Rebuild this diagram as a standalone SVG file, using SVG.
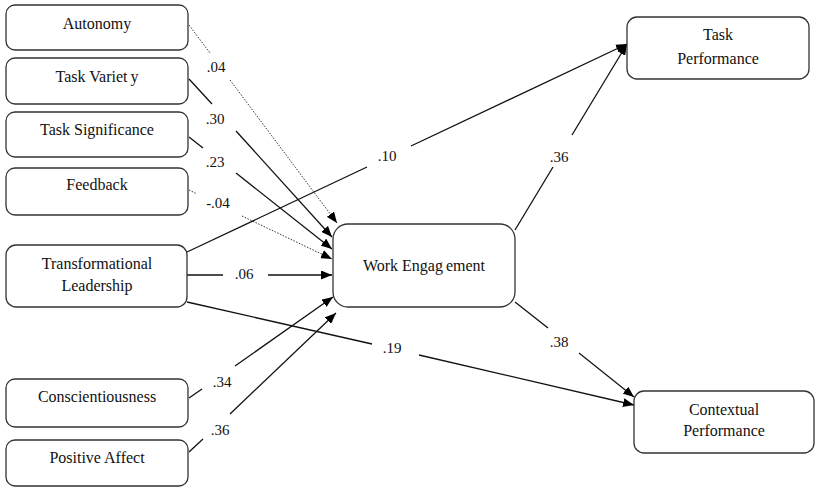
<svg xmlns="http://www.w3.org/2000/svg" width="815" height="488" viewBox="0 0 815 488">
<defs>
<style>
.box{fill:#fff;stroke:#333;stroke-width:1.3}
.t{font-family:"Liberation Serif","Times New Roman",serif;font-size:16px;fill:#111;text-anchor:middle}
.l{font-family:"Liberation Serif","Times New Roman",serif;font-size:15px;fill:#111;text-anchor:middle}
.c{fill:none;stroke:#111;stroke-width:1.3}
.d{fill:none;stroke:#333;stroke-width:1;stroke-dasharray:1.5,1.5}
</style>
<marker id="ah" markerUnits="userSpaceOnUse" markerWidth="12" markerHeight="9" refX="11" refY="4.5" orient="auto">
<path d="M0,0 L11,4.5 L0,9 z" fill="#000"/>
</marker>
</defs>
<rect width="815" height="488" fill="#fff"/>
<g id="connectors">
<path class="d" d="M189,25 L210,53"/>
<path class="d" d="M230,80 L337,223" marker-end="url(#ah)"/>
<path class="c" d="M189,79 L212,104"/>
<path class="c" d="M236,131 L332,237" marker-end="url(#ah)"/>
<path class="c" d="M189,137 L203,148"/>
<path class="c" d="M236,173 L332,249" marker-end="url(#ah)"/>
<path class="d" d="M189,190 L197,194"/>
<path class="d" d="M242,216 L332,259" marker-end="url(#ah)"/>
<path class="c" d="M187,275 L223,275"/>
<path class="c" d="M268,275 L332,275" marker-end="url(#ah)"/>
<path class="c" d="M189,398 L202,389"/>
<path class="c" d="M235,366 L333,297" marker-end="url(#ah)"/>
<path class="c" d="M189,452 L203,439"/>
<path class="c" d="M230,414 L336,313" marker-end="url(#ah)"/>
<path class="c" d="M187,252 L367,167"/>
<path class="c" d="M411,146 L627,44" marker-end="url(#ah)"/>
<path class="c" d="M187,302 L372,344"/>
<path class="c" d="M419,355 L634,405" marker-end="url(#ah)"/>
<path class="c" d="M515,230 L553,167"/>
<path class="c" d="M572,135 L627,44" marker-end="url(#ah)"/>
<path class="c" d="M515,302 L548,328"/>
<path class="c" d="M579,353 L634,397" marker-end="url(#ah)"/>
<text class="l" x="216" y="72">.04</text>
<text class="l" x="215" y="124">.30</text>
<text class="l" x="215" y="167">.23</text>
<text class="l" x="218" y="208">-.04</text>
<text class="l" x="244" y="279">.06</text>
<text class="l" x="222" y="387">.34</text>
<text class="l" x="220" y="435">.36</text>
<text class="l" x="387" y="161">.10</text>
<text class="l" x="392" y="353">.19</text>
<text class="l" x="559" y="162">.36</text>
<text class="l" x="559" y="347">.38</text>
</g>
<g id="autonomy"><rect class="box" x="6" y="5" width="182" height="45" rx="9"/><text class="t" x="97" y="29">Autonomy</text></g>
<g id="task-variety"><rect class="box" x="6" y="58" width="182" height="46" rx="9"/><text class="t" x="97" y="82">Task Variet<tspan dx="3">y</tspan></text></g>
<g id="task-significance"><rect class="box" x="6" y="112" width="182" height="45" rx="9"/><text class="t" x="97" y="135">Task Significance</text></g>
<g id="feedback"><rect class="box" x="6" y="168" width="182" height="47" rx="9"/><text class="t" x="97" y="190">Feedback</text></g>
<g id="transformational-leadership"><rect class="box" x="6" y="245" width="181" height="62" rx="10"/><text class="t" x="97" y="269">Transformational</text><text class="t" x="97" y="291">Leadership</text></g>
<g id="conscientiousness"><rect class="box" x="6" y="379" width="182" height="48" rx="9"/><text class="t" x="97" y="402">Conscientiousness</text></g>
<g id="positive-affect"><rect class="box" x="6" y="440" width="182" height="46" rx="9"/><text class="t" x="97" y="463">Positive Affect</text></g>
<g id="work-engagement"><rect class="box" x="333" y="224" width="182" height="83" rx="15"/><text class="t" x="424" y="271">Work Engag<tspan dx="3">ement</tspan></text></g>
<g id="task-performance"><rect class="box" x="627" y="17" width="182" height="62" rx="10"/><text class="t" x="718" y="40">Task</text><text class="t" x="718" y="64">Performance</text></g>
<g id="contextual-performance"><rect class="box" x="634" y="391" width="180" height="62" rx="10"/><text class="t" x="724" y="415">Contextual</text><text class="t" x="724" y="436">Performance</text></g>
</svg>
